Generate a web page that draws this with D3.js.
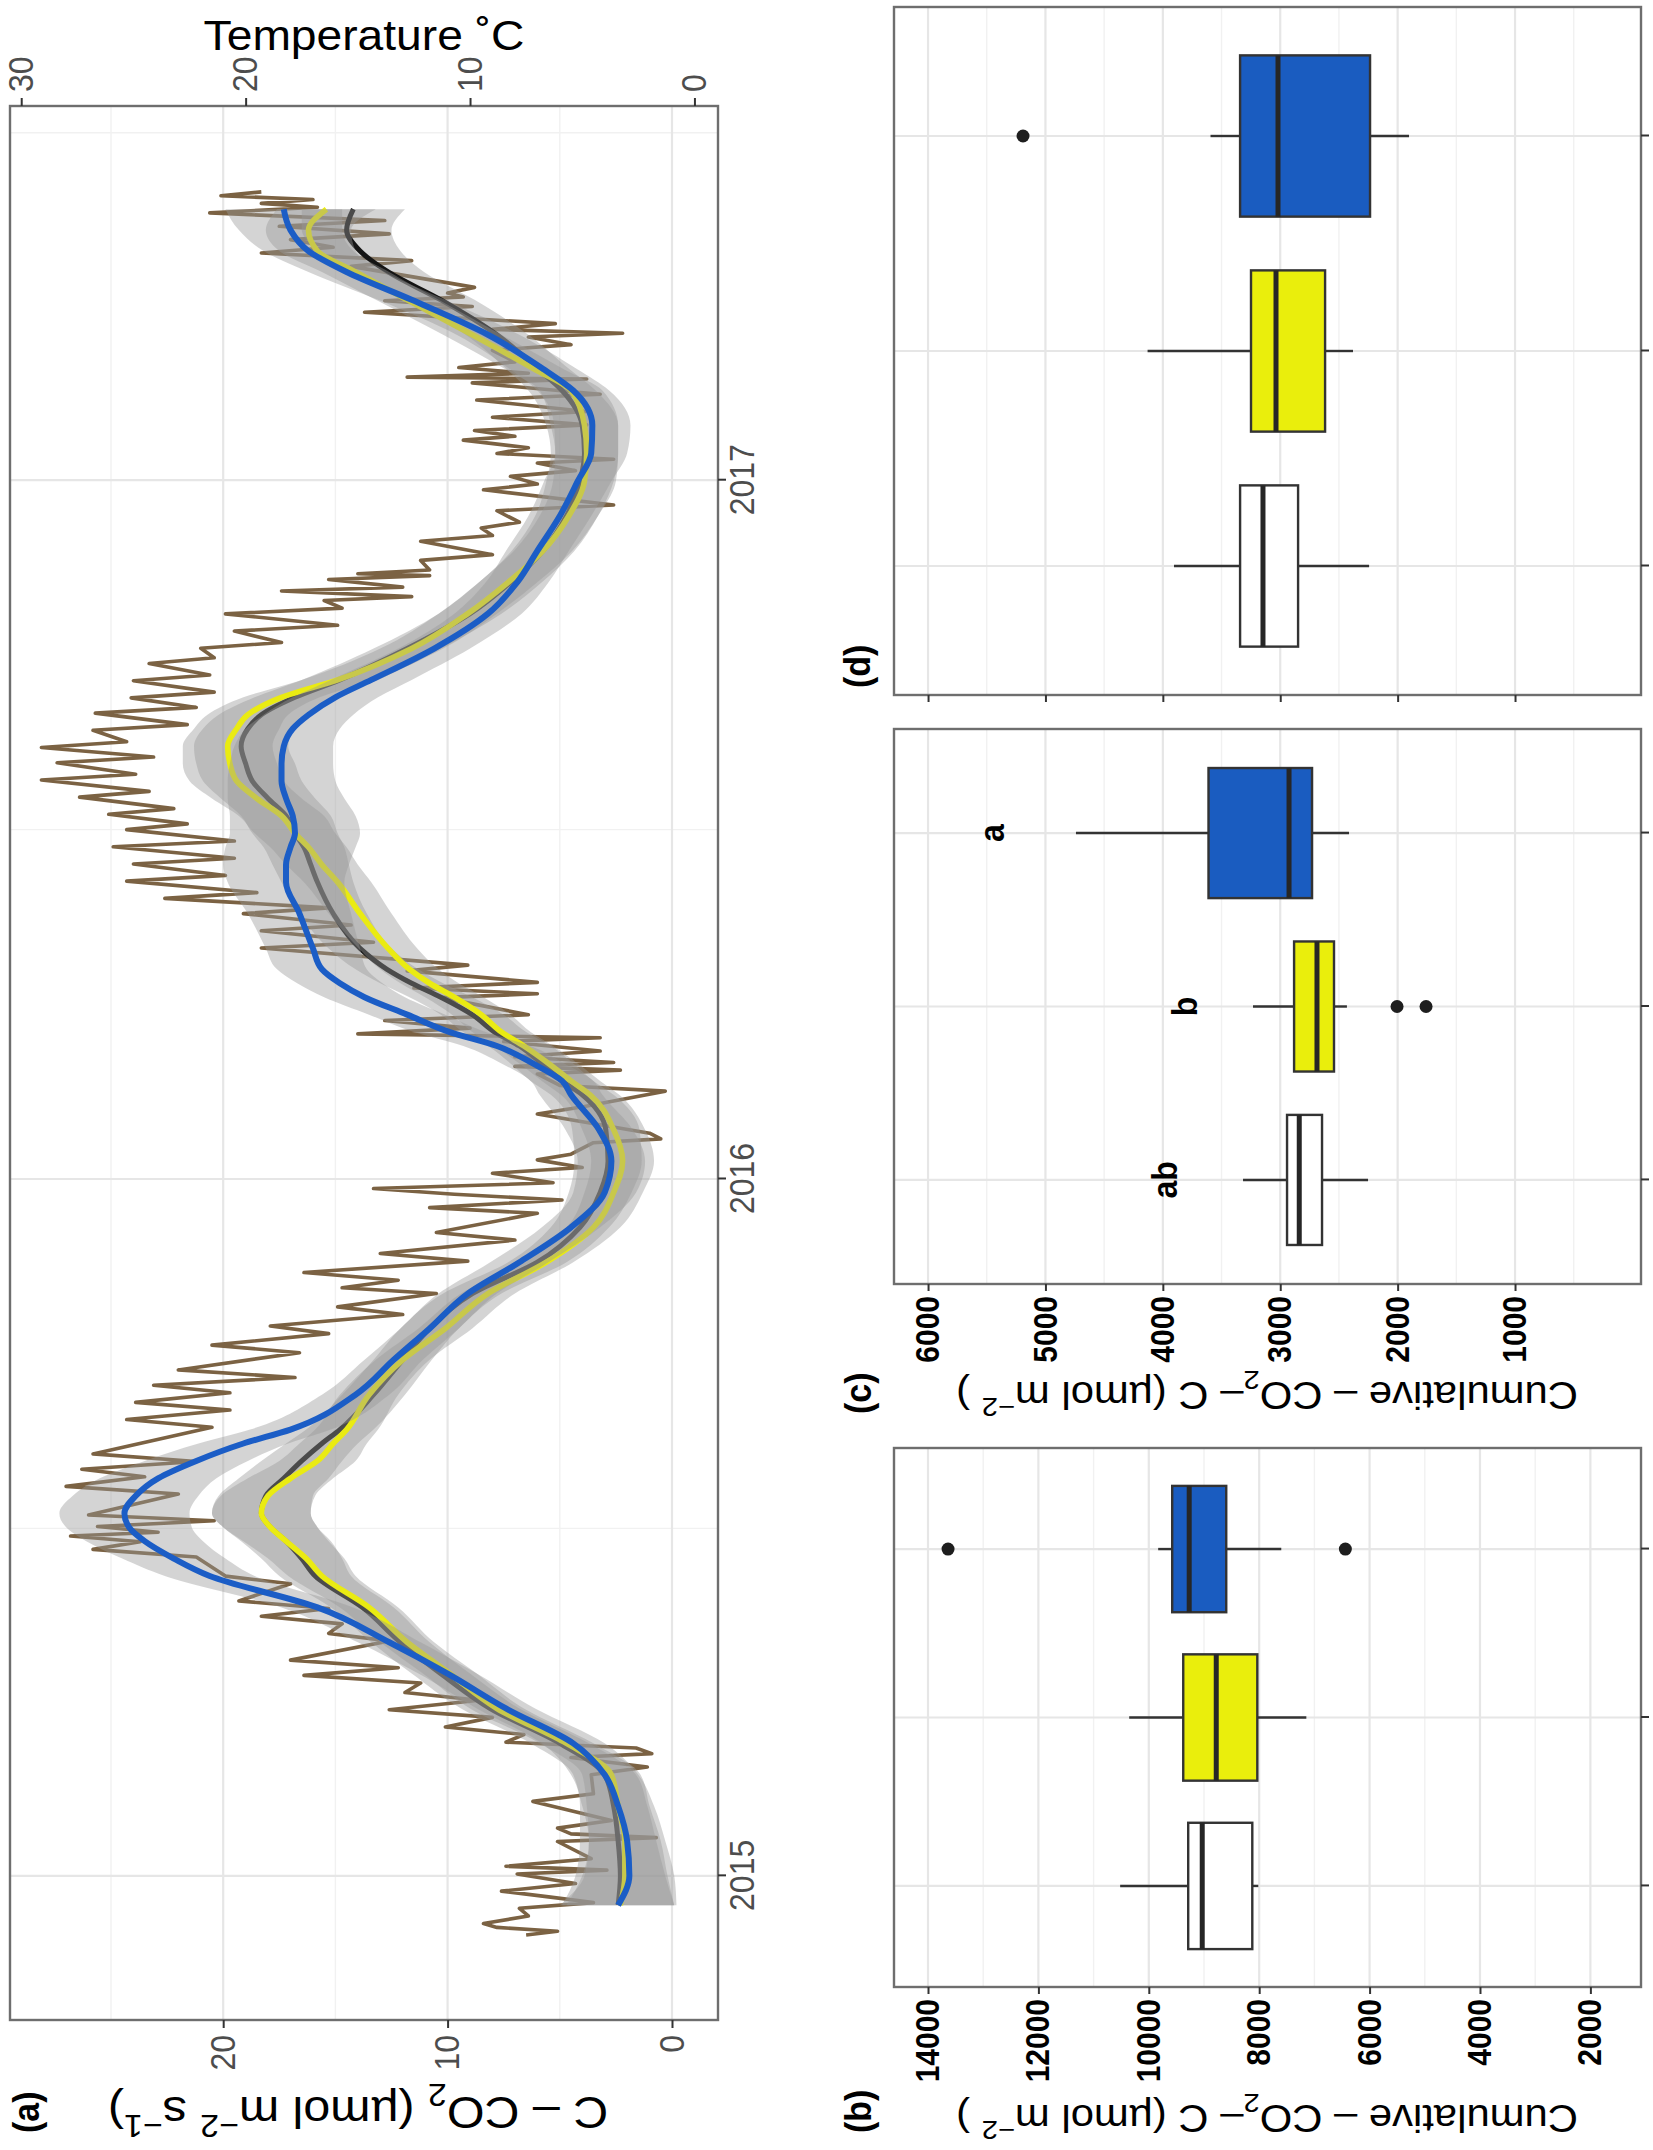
<!DOCTYPE html>
<html>
<head>
  <meta charset="UTF-8" />
  <title>Soil CO2 efflux and cumulative CO2-C</title>
  <script src="https://d3js.org/d3.v7.min.js"></script>
  <style>
    body { margin: 0; background: #fff; }
  </style>
</head>
<body>
  <div id="chart"></div>
  <script>
    // ---- data ----
    // smoothed efflux curves, sampled at decimal years
    const smoothYear = [2014.958, 2015.00, 2015.05, 2015.10, 2015.145, 2015.19, 2015.24, 2015.29, 2015.335, 2015.385,
      2015.43, 2015.455, 2015.48, 2015.50, 2015.52, 2015.545, 2015.57, 2015.595, 2015.62, 2015.64,
      2015.69, 2015.74, 2015.785, 2015.835, 2015.88, 2015.93, 2015.98, 2016.025, 2016.07, 2016.12,
      2016.14, 2016.165, 2016.19, 2016.21, 2016.235, 2016.26, 2016.28, 2016.30, 2016.33, 2016.38,
      2016.425, 2016.45, 2016.475, 2016.495, 2016.52, 2016.545, 2016.57, 2016.595, 2016.62, 2016.645,
      2016.665, 2016.69, 2016.715, 2016.76, 2016.81, 2016.855, 2016.90, 2016.95, 2017.00, 2017.04,
      2017.08, 2017.13, 2017.16, 2017.21, 2017.26, 2017.30, 2017.33, 2017.36, 2017.39];
    const co2Black = [2.4, 2.3, 2.4, 2.6, 3.0, 5.0, 8.1, 10.3, 12.1, 13.8, 15.9, 16.5, 17.2, 17.9, 18.3, 18.1, 17.3, 16.5, 15.6, 14.8,
      13.3, 12.0, 10.8, 8.9, 6.0, 4.1, 3.2, 2.85, 2.95, 4.0, 4.9, 5.8, 6.8, 7.9, 8.9, 10.3, 11.6, 12.7, 13.9, 15.1,
      15.8, 16.1, 16.4, 16.8, 17.2, 18.0, 18.7, 19.0, 19.2, 18.9, 18.3, 16.8, 14.8, 11.8, 9.0, 7.2, 5.75, 4.7, 4.1, 3.9,
      4.0, 4.9, 5.95, 7.8, 10.3, 12.65, 13.9, 14.5, 14.2];
    const co2Yellow = [2.3, 2.1, 2.1, 2.4, 2.7, 4.7, 7.8, 9.9, 11.8, 13.5, 15.6, 16.3, 17.2, 17.9, 18.3, 18.0, 17.0, 15.8, 15.1, 14.5,
      13.5, 12.0, 10.1, 8.2, 5.6, 3.5, 2.6, 2.2, 2.6, 3.65, 4.5, 5.5, 6.6, 7.6, 8.5, 9.7, 10.8, 11.7, 12.65, 13.9,
      14.9, 15.6, 16.2, 16.8, 17.4, 18.5, 19.4, 19.7, 19.8, 19.4, 18.9, 17.4, 14.9, 11.6, 9.1, 7.3, 5.75, 4.6, 3.9, 3.8,
      3.9, 4.5, 6.1, 8.9, 11.8, 14.1, 15.8, 16.2, 15.4];
    const co2Blue = [2.4, 1.9, 2.0, 2.4, 3.0, 4.4, 7.4, 10.0, 12.6, 15.8, 20.6, 22.2, 23.5, 24.2, 24.4, 23.9, 22.9, 21.2, 19.1, 17.0,
      14.1, 12.4, 10.8, 9.1, 6.8, 4.5, 3.0, 2.7, 3.25, 4.5, 4.9, 6.2, 7.8, 9.9, 11.8, 13.7, 14.8, 15.6, 16.0, 16.6,
      17.2, 17.2, 17.0, 16.8, 16.9, 17.2, 17.4, 17.4, 17.3, 16.9, 16.2, 15.0, 13.4, 10.6, 8.2, 6.9, 6.0, 5.0, 4.2, 3.6,
      3.55, 4.4, 5.7, 8.2, 11.6, 14.5, 16.2, 17.0, 17.3];
    // half widths of the confidence bands
    const seBlack = [2.5, 2.0, 1.7, 1.5, 1.4, 1.3, 1.3, 1.3, 1.3, 1.4, 1.6, 1.8, 2.0, 2.1, 2.2, 2.1, 2.0, 1.8, 1.6, 1.5,
      1.4, 1.3, 1.3, 1.3, 1.3, 1.3, 1.4, 1.5, 1.5, 1.4, 1.4, 1.4, 1.4, 1.4, 1.4, 1.4, 1.4, 1.4, 1.4, 1.5,
      1.6, 1.7, 1.8, 1.9, 2.0, 2.1, 2.2, 2.2, 2.1, 2.0, 1.9, 1.8, 1.7, 1.5, 1.4, 1.4, 1.4, 1.4, 1.5, 1.5,
      1.6, 1.5, 1.4, 1.4, 1.5, 1.6, 1.8, 2.0, 2.3];
    const seYellow = [2.4, 1.9, 1.6, 1.4, 1.3, 1.2, 1.2, 1.2, 1.2, 1.3, 1.5, 1.7, 1.9, 2.1, 2.2, 2.1, 1.9, 1.7, 1.5, 1.4,
      1.3, 1.2, 1.2, 1.2, 1.2, 1.2, 1.3, 1.4, 1.4, 1.3, 1.3, 1.3, 1.3, 1.3, 1.3, 1.3, 1.3, 1.3, 1.3, 1.4,
      1.5, 1.6, 1.7, 1.8, 1.9, 2.0, 2.1, 2.1, 2.0, 1.9, 1.8, 1.7, 1.6, 1.4, 1.3, 1.3, 1.3, 1.3, 1.4, 1.4,
      1.5, 1.4, 1.3, 1.3, 1.4, 1.5, 1.7, 1.9, 2.2];
    const seBlue = [2.6, 2.0, 1.7, 1.6, 1.5, 1.4, 1.3, 1.3, 1.4, 1.6, 2.0, 2.3, 2.6, 2.8, 2.9, 2.8, 2.6, 2.3, 2.0, 1.8,
      1.5, 1.3, 1.3, 1.3, 1.3, 1.3, 1.4, 1.5, 1.5, 1.4, 1.4, 1.4, 1.5, 1.6, 1.7, 1.8, 1.9, 2.0, 2.1, 2.3,
      2.6, 2.8, 2.9, 2.9, 2.8, 2.6, 2.4, 2.3, 2.2, 2.1, 2.0, 1.9, 1.8, 1.6, 1.5, 1.4, 1.4, 1.4, 1.5, 1.6,
      1.7, 1.6, 1.5, 1.4, 1.5, 1.7, 2.0, 2.3, 2.6];

    // air temperature, days after 2015-01-01
    const tempDay = [-31, -29, -27, -25, -21, -17, -14, -11, -8, -4, 1, 3, 5, 9, 18, 20, 22, 25, 29, 39, 43, 53, 57, 62, 64, 67, 70,
      74, 78, 83, 87, 92, 96, 101, 105, 109, 113, 123, 127, 132, 136, 140, 144, 153, 157, 167, 171, 175, 178, 180, 183,
      186, 189, 200, 204, 209, 213, 217, 221, 235, 239, 244, 248, 253, 257, 261, 265, 274, 278, 284, 288, 294, 298, 305,
      308, 312, 316, 322, 326, 333, 337, 347, 350, 354, 357, 360, 363, 368, 371, 375, 378, 384, 386, 389, 399, 403, 411,
      414, 420, 422, 424, 426, 429, 432, 437, 439, 441, 444, 448, 451, 460, 462, 465, 468, 474, 477, 486, 489, 495, 498,
      504, 507, 512, 515, 521, 524, 530, 533, 539, 542, 548, 551, 556, 559, 565, 568, 574, 577, 583, 586, 591, 594, 600,
      603, 609, 612, 617, 620, 626, 629, 635, 638, 643, 646, 652, 655, 661, 664, 668, 670, 673, 675, 679, 681, 682, 684,
      689, 692, 699, 702, 706, 709, 715, 718, 726, 729, 733, 736, 740, 742, 745, 748, 752, 754, 757, 760, 764, 767, 773,
      776, 782, 784, 785, 787, 790, 793, 799, 802, 806, 808, 810, 813, 819, 822, 825, 827, 829, 832, 843, 846, 850, 853,
      857, 860, 864, 867, 871, 874, 876, 878, 880, 882];
    const tempC = [7.5, 6.1, 8.8, 9.4, 7.4, 7.8, 4.5, 6.5, 8.6, 5.3, 7.9, 3.9, 8.4, 4.6, 6.1, 1.7, 5.5, 6.1, 3.7, 7.2, 4.5, 4.6, 2.1, 5.5, 1.9, 2.6, 8.4,
      7.6, 11.1, 9.0, 13.6, 9.6, 12.9, 12.2, 17.4, 13.2, 18.0, 13.6, 16.3, 15.7, 19.3, 16.3, 20.3, 18.0, 20.9, 22.2, 26.8, 24.7, 27.8, 23.9, 26.6,
      21.4, 27.0, 23.0, 28.0, 24.5, 27.3, 22.2, 26.8, 21.5, 25.3, 20.7, 24.9, 20.7, 24.1, 17.8, 23.0, 17.6, 21.5, 16.3, 18.9, 13.0, 15.9, 11.5,
      15.7, 13.2, 17.4, 10.1, 14.0, 8.0, 11.5, 7.0, 11.8, 5.9, 10.7, 14.3, 6.3, 9.0, 5.0, 7.0, 5.5, 4.5, 1.5, 2.0, 7.0, 4.9, 1.3,
      6.0, 7.0, 3.3, 8.0, 3.6, 8.0, 4.2, 8.5, 4.2, 15.0, 10.0, 13.8, 7.4, 11.3, 7.0, 12.5, 7.0, 12.8, 10.1, 19.3, 14.3, 19.3, 15.3,
      20.1, 16.3, 23.6, 19.5, 25.3, 20.9, 25.0, 20.5, 25.9, 20.5, 25.3, 22.6, 26.1, 23.2, 27.4, 24.3, 29.1, 24.9, 28.4, 24.1, 29.1, 25.3, 26.8,
      22.6, 26.7, 22.2, 25.1, 21.4, 25.0, 21.6, 24.3, 21.4, 22.0, 18.4, 20.5, 15.9, 20.9, 15.7, 16.5, 12.6, 18.4, 13.0, 16.3, 11.8, 15.0, 11.8,
      12.2, 9.0, 12.2, 9.0, 9.5, 7.8, 8.8, 3.6, 9.4, 7.0, 8.2, 5.3, 7.0, 3.6, 8.8, 7.4, 10.3, 8.0, 9.8, 4.8, 9.0, 4.8, 9.7,
      4.2, 9.9, 4.8, 12.8, 7.4, 10.5, 8.0, 9.0, 5.5, 7.4, 3.2, 9.0, 6.2, 14.7, 9.9, 13.8, 10.3, 11.0, 9.8, 15.3, 12.6, 19.3, 16.1,
      18.0, 13.6, 18.5, 13.8, 21.6, 16.8, 19.3, 17.0, 21.1, 19.3];

    // box plots: [lower whisker, Q1, median, Q3, upper whisker]
    const groups = ["white", "yellow", "blue"];
    const cumB = [[8016, 8125, 9032, 9286, 10519], [7146, 8034, 8778, 9376, 10355], [7600, 8597, 9268, 9576, 9830]];
    const outB = [[], [], [13637, 6439]];
    const cumC = [[2252, 2644, 2838, 2942, 3317], [2432, 2542, 2687, 2882, 3232], [2414, 2729, 2925, 3611, 4740]];
    const outC = [[], [2005, 1758], []];
    const cumD = [[2243, 2848, 3147, 3342, 3905], [2380, 2618, 3036, 3249, 4130], [1903, 2235, 3019, 3342, 3594]];
    const outD = [[], [], [5191]];
    const lettersC = ["ab", "b", "a"];
    const letterAtC = [3986, 3815, 5455];

    // ticks
    const co2Ticks = [0, 10, 20];
    const co2Minor = [5, 15, 25];
    const tempTicks = [0, 10, 20, 30];
    const yearTicks = ["2015-01-01", "2016-01-01", "2017-01-01"];
    const yearMinor = ["2015-07-02", "2016-07-02", "2017-07-02"];
    const cumTicksB = [2000, 4000, 6000, 8000, 10000, 12000, 14000];
    const cumMinorB = [3000, 5000, 7000, 9000, 11000, 13000];
    const cumTicksCD = [1000, 2000, 3000, 4000, 5000, 6000];
    const cumMinorCD = [500, 1500, 2500, 3500, 4500, 5500];

    // ---- styles ----
    const FONT = '"Liberation Sans", Arial, Helvetica, sans-serif';
    const S = 1.1; // text in the figure is a little wider across the page
    const lineColor = { white: "#141414", yellow: "#eaeb12", blue: "#1b5dc6" };
    const boxFill = { white: "#ffffff", yellow: "#eaee0c", blue: "#1a5cc0" };
    const gridMajor = "#e6e6e6", gridMinor = "#f1f1f1", border = "#6e6e6e";

    const toDate = y => new Date(Date.UTC(2015, 0, 1) + (y - 2015) * 365.25 * 864e5);
    const dayToDate = d => new Date(Date.UTC(2015, 0, 1) + d * 864e5);
    const parse = d3.utcParse("%Y-%m-%d");

    // the whole figure is laid out landscape and turned a quarter to the left
    const W = 2150;
    const svg = d3.select("#chart").append("svg")
      .attr("width", 1653).attr("height", 2150)
      .style("font-family", FONT);
    svg.append("rect").attr("width", 1653).attr("height", 2150).attr("fill", "#fff");
    const root = svg.append("g").attr("transform", `translate(0,${W}) rotate(-90)`);

    function text(x, y, rot, size, weight) {
      return root.append("text")
        .attr("transform", `translate(${x},${y}) scale(1,${S}) rotate(${rot})`)
        .attr("font-size", size)
        .attr("font-weight", weight || "normal")
        .attr("fill", "#000");
    }

    // plotmath-like label with sub and superscripts
    function rich(sel, parts, size) {
      let shift = 0;
      parts.forEach(([str, kind]) => {
        const target = kind === "sub" ? size * 0.3 : kind === "sup" ? -size * 0.42 : 0;
        sel.append("tspan")
          .attr("dy", target - shift)
          .attr("font-size", kind ? size * 0.7 : size)
          .text(str);
        shift = target;
      });
    }

    function styleAxis(g, size, weight, color) {
      g.attr("font-family", FONT).attr("font-size", size);
      g.select(".domain").remove();
      g.selectAll("line").attr("stroke", "#333").attr("stroke-width", 2);
      g.selectAll("text")
        .attr("fill", color)
        .attr("font-weight", weight)
        .attr("transform", `scale(1,${S})`);
    }

    // ---- panel (a) ----
    const A = { x0: 130, x1: 2044, y0: 10, y1: 718 };
    const xA = d3.scaleUtc()
      .domain([new Date(Date.UTC(2014, 9, 17, 12)), new Date(Date.UTC(2017, 6, 16))])
      .range([A.x0, A.x1]);
    const yA = d3.scaleLinear().domain([-2.05, 29.5]).range([A.y1, A.y0]);
    const yT = d3.scaleLinear().domain([0, 30]).range([yA(-1), yA(29)]); // secondary axis, temp = CO2 + 1

    const gA = root.append("g");
    gA.selectAll(null).data(yearMinor).join("line")
      .attr("x1", d => xA(parse(d))).attr("x2", d => xA(parse(d)))
      .attr("y1", A.y0).attr("y2", A.y1)
      .attr("stroke", gridMinor).attr("stroke-width", 1.4);
    gA.selectAll(null).data(co2Minor).join("line")
      .attr("x1", A.x0).attr("x2", A.x1)
      .attr("y1", d => yA(d)).attr("y2", d => yA(d))
      .attr("stroke", gridMinor).attr("stroke-width", 1.4);
    gA.selectAll(null).data(yearTicks).join("line")
      .attr("x1", d => xA(parse(d))).attr("x2", d => xA(parse(d)))
      .attr("y1", A.y0).attr("y2", A.y1)
      .attr("stroke", gridMajor).attr("stroke-width", 2.2);
    gA.selectAll(null).data(co2Ticks).join("line")
      .attr("x1", A.x0).attr("x2", A.x1)
      .attr("y1", d => yA(d)).attr("y2", d => yA(d))
      .attr("stroke", gridMajor).attr("stroke-width", 2.2);

    // temperature record
    const tempSeries = tempDay.map((d, i) => ({ date: dayToDate(d), t: tempC[i] }));
    gA.append("path").datum(tempSeries)
      .attr("d", d3.line().x(d => xA(d.date)).y(d => yT(d.t)))
      .attr("fill", "none").attr("stroke", "#7b6243").attr("stroke-width", 3.6)
      .attr("stroke-linejoin", "round");

    // smooths, drawn group by group: band then line
    const smooths = [
      { name: "white", v: co2Black, se: seBlack, w: 5 },
      { name: "yellow", v: co2Yellow, se: seYellow, w: 5.6 },
      { name: "blue", v: co2Blue, se: seBlue, w: 6 }
    ];
    smooths.forEach(s => {
      const pts = smoothYear.map((yr, i) => ({ date: toDate(yr), v: s.v[i], se: s.se[i] }));
      gA.append("path").datum(pts)
        .attr("d", d3.area().x(d => xA(d.date))
          .y0(d => yA(d.v - d.se)).y1(d => yA(d.v + d.se)).curve(d3.curveMonotoneX))
        .attr("fill", "#999").attr("fill-opacity", 0.42);
      gA.append("path").datum(pts)
        .attr("d", d3.line().x(d => xA(d.date)).y(d => yA(d.v)).curve(d3.curveMonotoneX))
        .attr("fill", "none").attr("stroke", lineColor[s.name]).attr("stroke-width", s.w);
    });

    gA.append("rect")
      .attr("x", A.x0).attr("y", A.y0).attr("width", A.x1 - A.x0).attr("height", A.y1 - A.y0)
      .attr("fill", "none").attr("stroke", border).attr("stroke-width", 2.4);

    const axL = gA.append("g").attr("transform", `translate(${A.x0},0)`)
      .call(d3.axisLeft(yA).tickValues(co2Ticks).tickSize(8).tickPadding(7));
    styleAxis(axL, 32, "normal", "#4d4d4d");
    const axR = gA.append("g").attr("transform", `translate(${A.x1},0)`)
      .call(d3.axisRight(yT).tickValues(tempTicks).tickSize(8).tickPadding(6));
    styleAxis(axR, 32, "normal", "#4d4d4d");
    const axB = gA.append("g").attr("transform", `translate(0,${A.y1})`)
      .call(d3.axisBottom(xA).tickValues(yearTicks.map(parse)).tickFormat(d3.utcFormat("%Y")).tickSize(8).tickPadding(2));
    styleAxis(axB, 32, "normal", "#4d4d4d");

    rich(text(53, 358, -90, 44).attr("text-anchor", "middle"),
      [["C \u2013 CO"], ["2", "sub"], ["  (\u00b5mol  m"], ["\u22122", "sup"], [" s"], ["\u22121", "sup"], [")"]], 44);
    text(2100, 364, 90, 42).attr("text-anchor", "middle").text("Temperature \u02daC");
    text(17, 39, 0, 34, "bold").text("(a)");

    // ---- box plot panels ----
    const BY0 = 894, BY1 = 1641;
    function boxPanel(x0, x1, ys, stats, outs, ticks, minor, labelled) {
      const xs = d3.scalePoint().domain(groups).range([x0, x1]).padding(0.6);
      const half = xs.step() * 0.375;
      const g = root.append("g");
      g.selectAll(null).data(minor).join("line")
        .attr("x1", x0).attr("x2", x1).attr("y1", d => ys(d)).attr("y2", d => ys(d))
        .attr("stroke", gridMinor).attr("stroke-width", 1.4);
      g.selectAll(null).data(ticks).join("line")
        .attr("x1", x0).attr("x2", x1).attr("y1", d => ys(d)).attr("y2", d => ys(d))
        .attr("stroke", gridMajor).attr("stroke-width", 2.2);
      g.selectAll(null).data(groups).join("line")
        .attr("x1", d => xs(d)).attr("x2", d => xs(d)).attr("y1", BY0).attr("y2", BY1)
        .attr("stroke", gridMajor).attr("stroke-width", 2.2);

      groups.forEach((grp, i) => {
        const [lo, q1, med, q3, hi] = stats[i];
        const cx = xs(grp);
        g.append("line").attr("x1", cx).attr("x2", cx).attr("y1", ys(hi)).attr("y2", ys(q3))
          .attr("stroke", "#333").attr("stroke-width", 2.4);
        g.append("line").attr("x1", cx).attr("x2", cx).attr("y1", ys(q1)).attr("y2", ys(lo))
          .attr("stroke", "#333").attr("stroke-width", 2.4);
        g.append("rect")
          .attr("x", cx - half).attr("width", 2 * half)
          .attr("y", ys(q3)).attr("height", ys(q1) - ys(q3))
          .attr("fill", boxFill[grp]).attr("stroke", "#333").attr("stroke-width", 2.4);
        g.append("line").attr("x1", cx - half).attr("x2", cx + half).attr("y1", ys(med)).attr("y2", ys(med))
          .attr("stroke", "#262626").attr("stroke-width", 5);
        g.selectAll(null).data(outs[i]).join("circle")
          .attr("cx", cx).attr("cy", d => ys(d)).attr("r", 6.5).attr("fill", "#1e1e1e");
      });

      g.append("rect")
        .attr("x", x0).attr("y", BY0).attr("width", x1 - x0).attr("height", BY1 - BY0)
        .attr("fill", "none").attr("stroke", border).attr("stroke-width", 2.4);

      const ay = g.append("g").attr("transform", `translate(${x0},0)`)
        .call(d3.axisLeft(ys).tickValues(ticks).tickSize(7).tickPadding(labelled ? 5 : 0)
          .tickFormat(labelled ? d3.format("d") : ""));
      styleAxis(ay, 30, "bold", "#000");
      const ax = g.append("g").attr("transform", `translate(0,${BY1})`)
        .call(d3.axisBottom(xs).tickSize(8).tickFormat(""));
      styleAxis(ax, 30, "normal", "#000");
      return xs;
    }

    const yB = d3.scaleLinear().domain([1083, 14616]).range([BY1, BY0]);
    const yCD = d3.scaleLinear().domain([-73, 6290]).range([BY1, BY0]);

    boxPanel(163, 702, yB, cumB, outB, cumTicksB, cumMinorB, true);
    const xC = boxPanel(866, 1421, yCD, cumC, outC, cumTicksCD, cumMinorCD, true);
    boxPanel(1455, 2143, yCD, cumD, outD, cumTicksCD, cumMinorCD, false);

    lettersC.forEach((l, i) => {
      text(xC(groups[i]), yCD(letterAtC[i]), 0, 32, "bold")
        .attr("text-anchor", "middle").attr("dominant-baseline", "central").text(l);
    });

    const cumTitle = [["Cumulative \u2013 CO"], ["2", "sub"], ["\u2013 C  (\u00b5mol  m"], ["\u22122", "sup"], [" )"]];
    rich(text(45, 1267, -90, 38).attr("text-anchor", "middle"), cumTitle, 38);
    rich(text(768, 1267, -90, 38).attr("text-anchor", "middle"), cumTitle, 38);

    text(17, 871, 0, 34, "bold").text("(b)");
    text(736, 871, 0, 34, "bold").text("(c)");
    text(1462, 870, 0, 34, "bold").text("(d)");
  </script>
</body>
</html>
